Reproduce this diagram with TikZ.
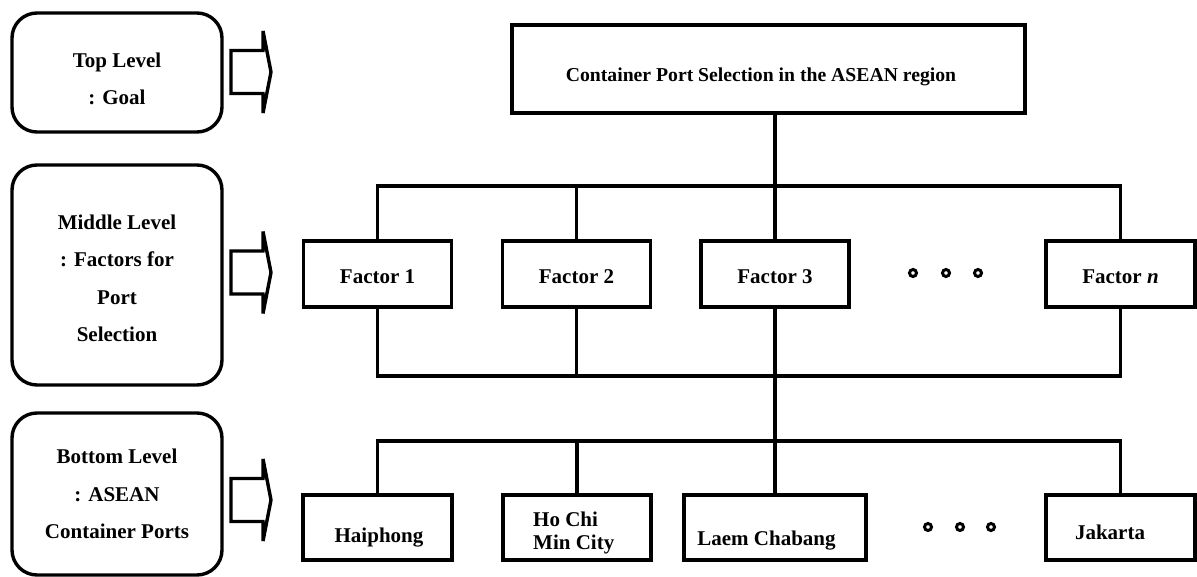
\documentclass[tikz,border=0pt]{standalone}
\usepackage{fontspec}
\setmainfont{Liberation Serif}
\newcommand{\lvfont}{\bfseries\fontsize{21}{25}\selectfont}
\newcommand{\goalfont}{\bfseries\fontsize{19.7}{24}\selectfont}
\begin{document}
\begin{tikzpicture}[x=1pt,y=-1pt,
  lw/.style={line width=3.4pt},
  lvlbox/.style={draw, lw, rounded corners=25pt, rectangle, inner sep=0pt, minimum width=210pt},
  fbox/.style={draw, lw, rectangle, inner sep=0pt, minimum width=148pt, minimum height=66pt, text height=18pt, text depth=0pt, font=\lvfont},
  pbox/.style={draw, lw, rectangle, inner sep=0pt, minimum height=65pt},
  conn/.style={lw},
  tl/.style={anchor=base, inner sep=0pt, font=\lvfont},
  dot/.style={circle, draw, line width=3pt, minimum size=7pt, inner sep=0pt},
  blockarrow/.pic={\draw[line width=3.4pt, line join=miter] (0,-21.5) -- (32,-21.5) -- (32,-41) -- (40,0) -- (32,41) -- (32,21.5) -- (0,21.5) -- cycle;}
]
\useasboundingbox (0,0) rectangle (1197,576);

% level boxes
\node[lvlbox, minimum height=119pt] (lv1) at (117,72.5) {};
\node[lvlbox, minimum height=220pt] (lv2) at (117,275) {};
\node[lvlbox, minimum height=162pt] (lv3) at (117,494) {};

\node[tl] (lv1a) at (117,67) {Top Level};
\node[tl] (lv1b) at (117,104) {: Goal};
\node[tl] (lv2a) at (117,229) {Middle Level};
\node[tl] (lv2b) at (117,266) {: Factors for};
\node[tl] (lv2c) at (117,304) {Port};
\node[tl] (lv2d) at (117,341) {Selection};
\node[tl] (lv3a) at (117,463) {Bottom Level};
\node[tl] (lv3b) at (117,501) {: ASEAN};
\node[tl] (lv3c) at (117,538) {Container Ports};

% block arrows
\pic at (231,72) {blockarrow};
\pic at (231,272.5) {blockarrow};
\pic at (231,500) {blockarrow};

% goal
\node[draw, lw, rectangle, inner sep=0pt, minimum width=513pt, minimum height=88pt] (goal) at (768.5,69) {};
\node[tl, font=\goalfont] (goalt) at (761,81) {Container Port Selection in the ASEAN region};

% factors
\node[fbox] (f1) at (377.6,274) {Factor 1};
\node[fbox] (f2) at (576.5,274) {Factor 2};
\node[fbox] (f3) at (775,274) {Factor 3};
\node[fbox, minimum width=149pt] (fn) at (1120.5,274) {Factor \textit{n}};

\node[dot] (d1) at (913,273) {};
\node[dot] (d2) at (946,273) {};
\node[dot] (d3) at (978,273) {};

% ports
\node[pbox, minimum width=149pt] (p1) at (377.5,527.5) {};
\node[pbox, minimum width=148pt] (p2) at (577,527.5) {};
\node[pbox, minimum width=182pt] (p3) at (775,527.5) {};
\node[pbox, minimum width=149pt] (p5) at (1120.5,527.5) {};

\node[tl] (p1t) at (379,542) {Haiphong};
\node[tl, anchor=base west] (p2a) at (533,526) {Ho Chi};
\node[tl, anchor=base west] (p2b) at (533,549) {Min City};
\node[tl] (p3t) at (766.5,545) {Laem Chabang};
\node[tl] (p5t) at (1110,539) {Jakarta};

\node[dot] (d4) at (928,527) {};
\node[dot] (d5) at (960,527) {};
\node[dot] (d6) at (991,527) {};

% bus coordinates
\coordinate (tb) at (0,186);
\coordinate (bb) at (0,376);
\coordinate (pb) at (0,441);

% connectors
\draw[conn] (f1.north) -- (f1.north |- tb) -- (fn.north |- tb) -- (fn.north);
\draw[conn] (f2.north) -- (f2.north |- tb);
\draw[conn] (goal.south -| f3.north) -- (f3.north);
\draw[conn] (f1.south) -- (f1.south |- bb) -- (fn.south |- bb) -- (fn.south);
\draw[conn] (f2.south) -- (f2.south |- bb);
\draw[conn] (f3.south) -- (p3.north);
\draw[conn] (p1.north) -- (p1.north |- pb) -- (p5.north |- pb) -- (p5.north);
\draw[conn] (p2.north) -- (p2.north |- pb);
\end{tikzpicture}
\end{document}
